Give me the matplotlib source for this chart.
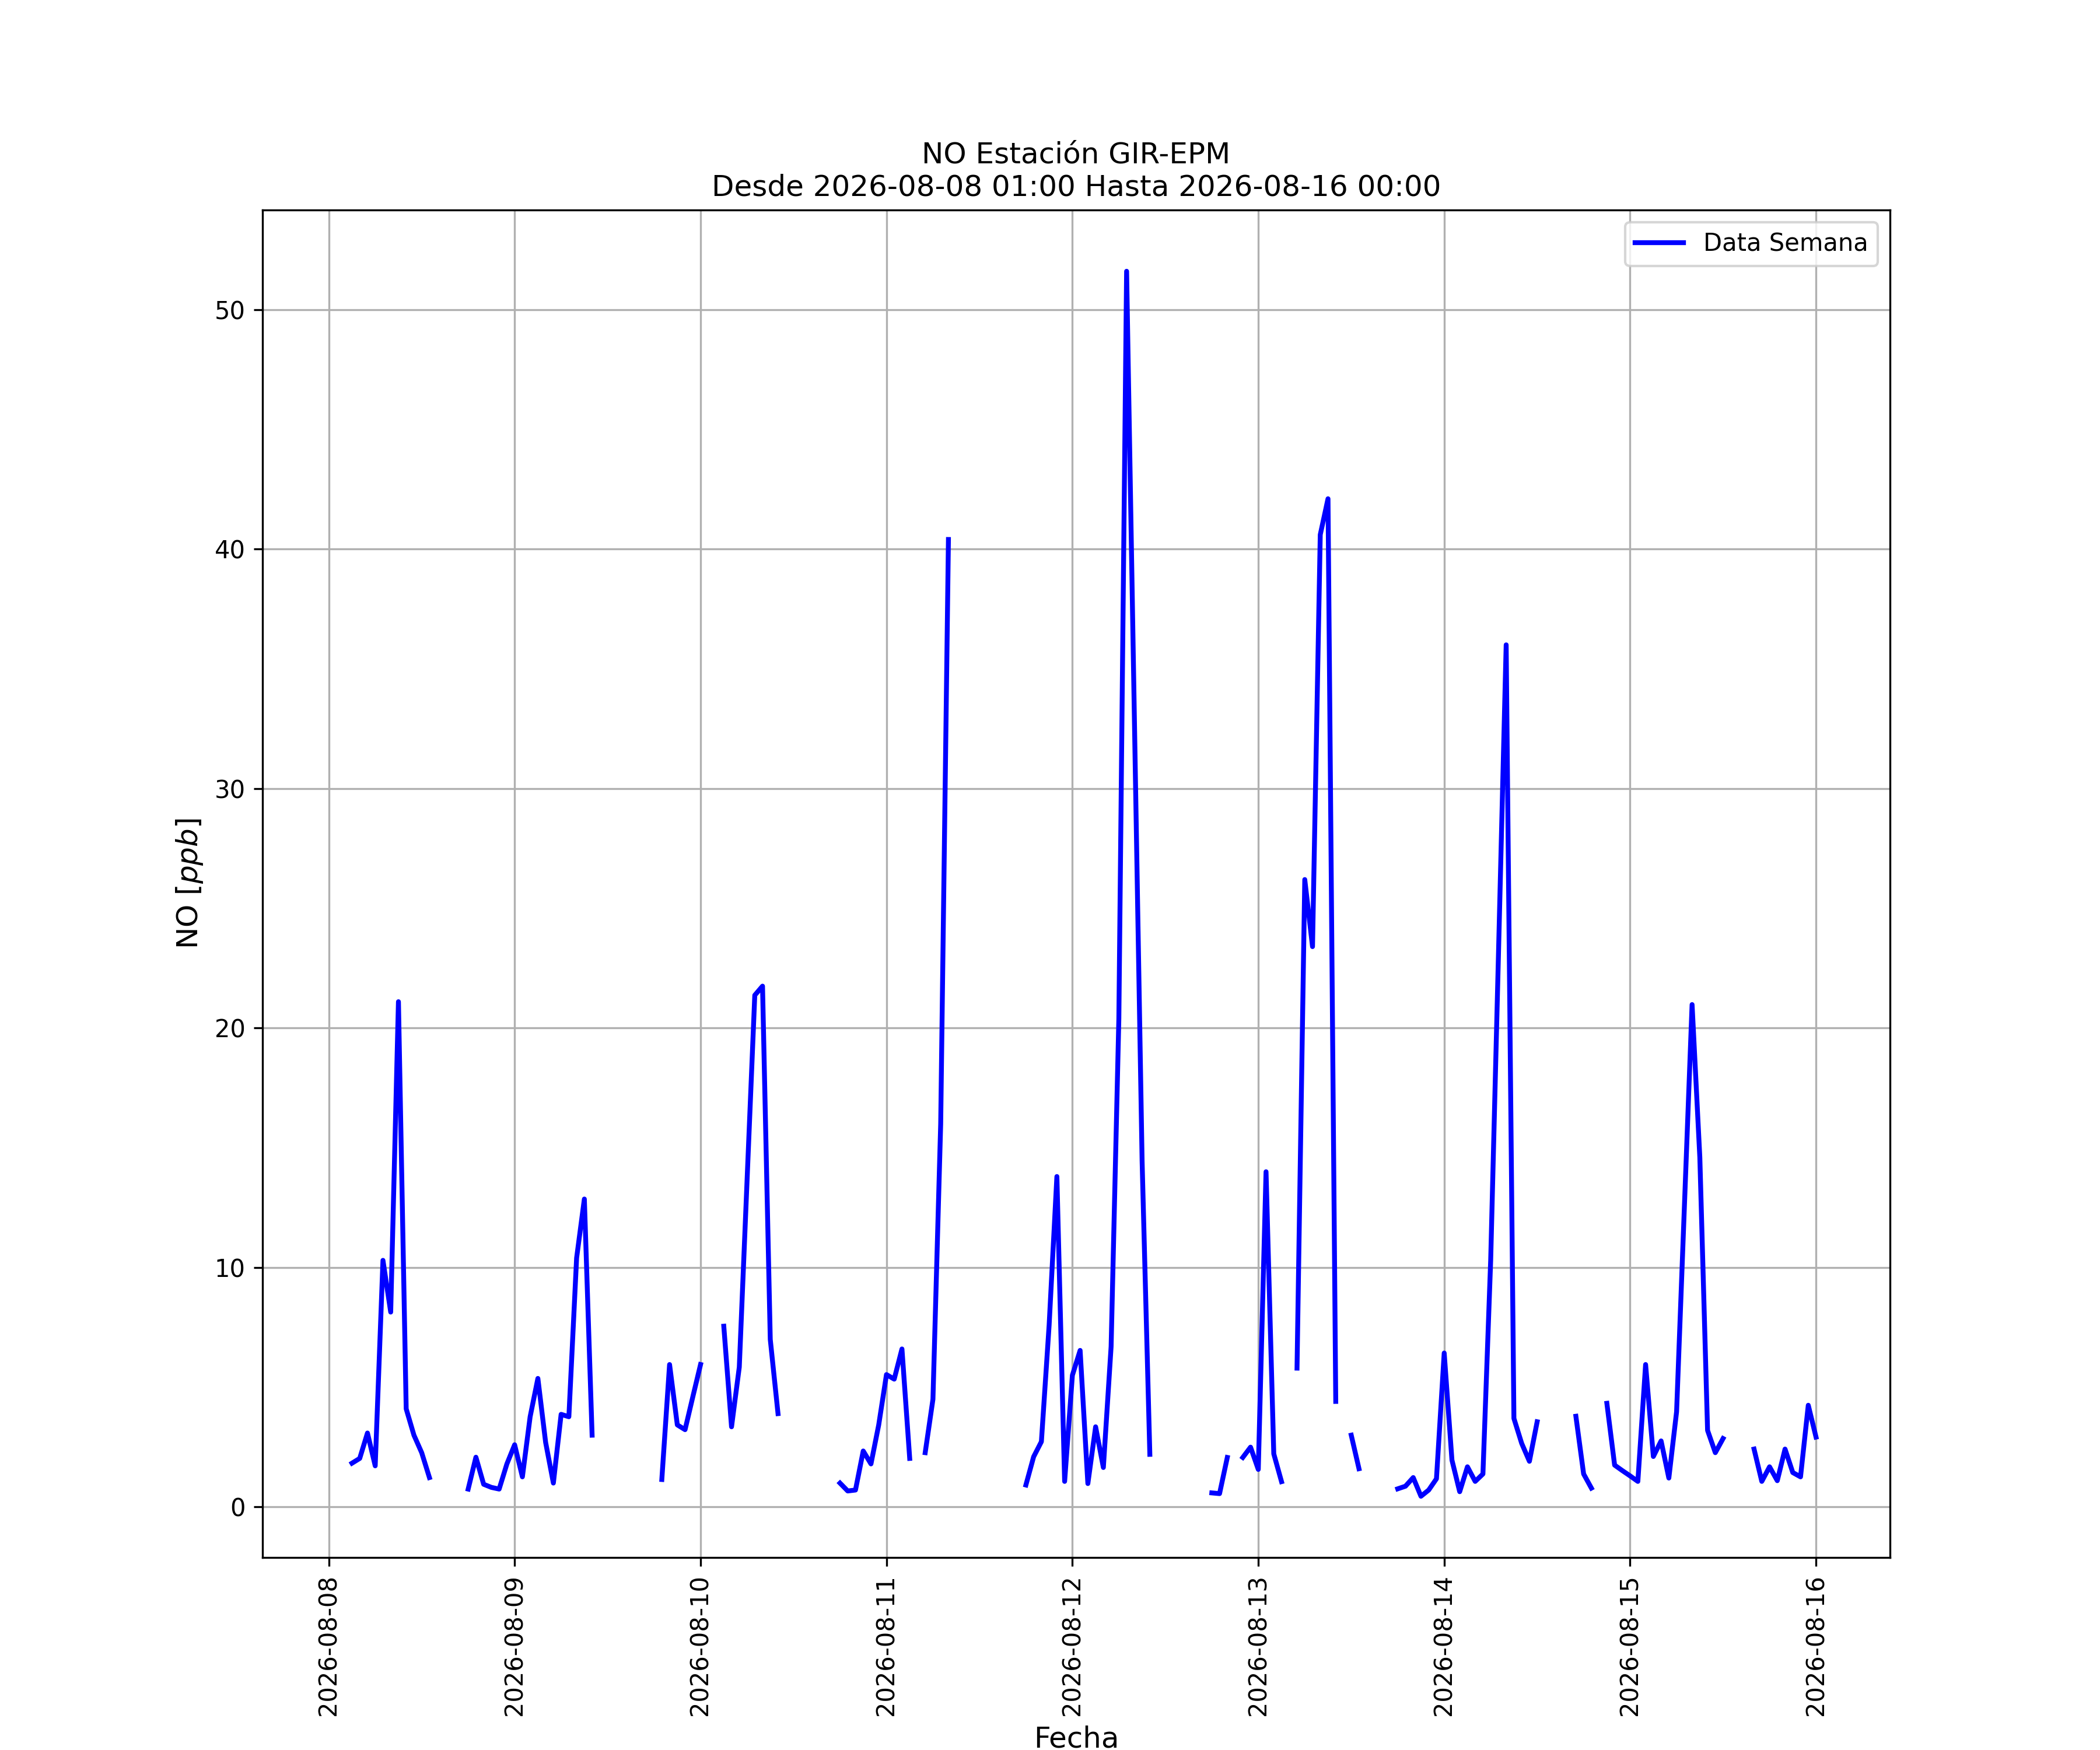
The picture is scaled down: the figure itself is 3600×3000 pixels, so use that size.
import numpy as np
import pandas as pd
import matplotlib
matplotlib.use("Agg")
import matplotlib.pyplot as plt

nan = np.nan

STATION = "GIR-EPM"
START = "2026-08-08 01:00"
END = "2026-08-16 00:00"

# hourly NO readings [ppb], one list per calendar day (day 08 starts at 01:00)
no_0808 = [nan, nan, 1.83, 2.03, 3.09, 1.72, 10.3, 8.14, 21.1, 4.1, 3.0, 2.27,
           1.23, nan, nan, nan, nan, 0.75, 2.08, 0.95, 0.82, 0.75, 1.8]
no_0809 = [2.6, 1.26, 3.77, 5.37, 2.7, 1.0, 3.87, 3.77, 10.4, 12.86, 3.0, nan,
           nan, nan, nan, nan, nan, nan, nan, 1.15, 5.95, 3.43, 3.23, 4.6]
no_0810 = [5.95, nan, nan, 7.55, 3.35, 5.84, 13.6, 21.37, 21.75, 7.0, 3.9, nan,
           nan, nan, nan, nan, nan, nan, 1.0, 0.67, 0.71, 2.34, 1.8, 3.43]
no_0811 = [5.53, 5.34, 6.6, 2.03, nan, 2.27, 4.5, 16.0, 40.4, nan, nan, nan,
           nan, nan, nan, nan, nan, nan, 0.92, 2.1, 2.73, 7.6, 13.8, 1.07]
no_0812 = [5.5, 6.54, 0.98, 3.35, 1.65, 6.7, 20.4, 51.6, 33.0, 14.46, 2.2, nan,
           nan, nan, nan, nan, nan, nan, 0.59, 0.56, 2.07, nan, 2.07, 2.5]
no_0813 = [1.57, 14.0, 2.22, 1.06, nan, 5.8, 26.2, 23.4, 40.6, 42.1, 4.41, nan,
           3.0, 1.6, nan, nan, nan, nan, 0.76, 0.87, 1.23, 0.45, 0.71, 1.18]
no_0814 = [6.43, 1.96, 0.64, 1.68, 1.07, 1.38, 10.3, 23.0, 36.0, 3.7, 2.66, 1.91,
           3.56, nan, nan, nan, nan, 3.79, 1.38, 0.79, nan, 4.33, 1.75, 1.52]
no_0815 = [1.3, 1.07, 5.95, 2.11, 2.76, 1.21, 3.98, 12.5, 20.98, 14.6, 3.2, 2.27,
           2.86, nan, nan, nan, 2.42, 1.07, 1.68, 1.1, 2.42, 1.44, 1.26, 4.25]
no_0816 = [2.92]

values = (no_0808 + no_0809 + no_0810 + no_0811 + no_0812 + no_0813
          + no_0814 + no_0815 + no_0816)
fechas = pd.date_range(START, END, freq="h")

data = pd.Series(values, index=fechas)

fig = plt.figure(figsize=(12, 10))
ax = fig.add_subplot(111)
ax.plot(data.index, data.values, color="b", linewidth=2, label="Data Semana")

# the x range covers the whole requested week, including the empty first hours
span = fechas[-1] - fechas[0]
ax.set_xlim(fechas[0] - 0.05 * span, fechas[-1] + 0.05 * span)

ax.set_title(f"NO Estación {STATION}\nDesde {START} Hasta {END}", fontsize=12)
ax.set_xlabel("Fecha", fontsize=12)
ax.set_ylabel("NO [$ppb$]", fontsize=12)
ax.tick_params(axis="both", labelsize=10)
plt.xticks(rotation=90)
ax.grid(True)
ax.legend(loc="upper right", fontsize=10)
fig.savefig("out.png", dpi=300)
